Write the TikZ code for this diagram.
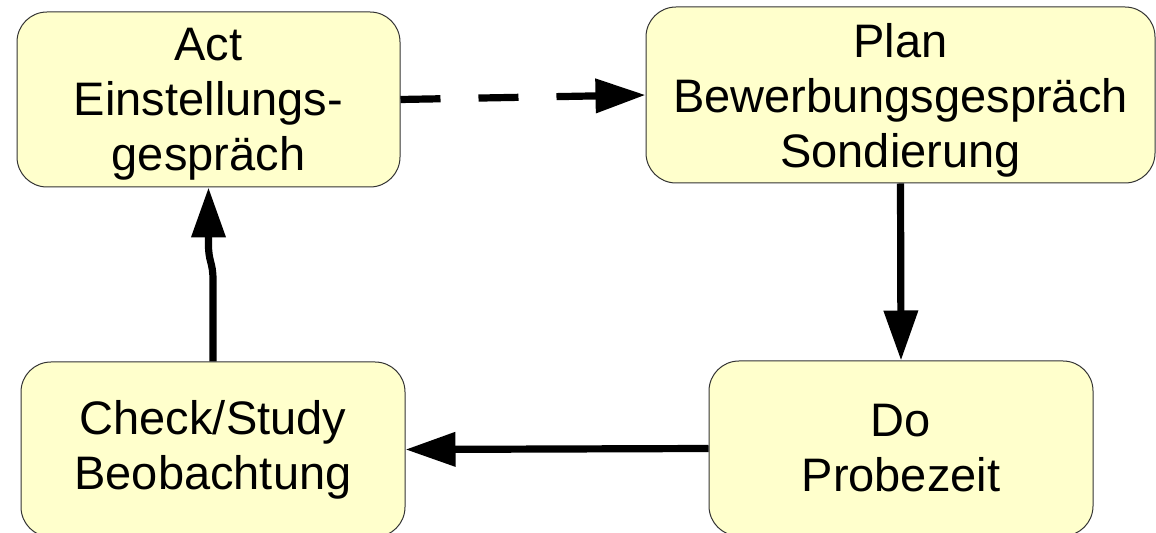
\documentclass[tikz,border=0pt]{standalone}
\usepackage{fontspec}
\setmainfont{Liberation Sans}
\usetikzlibrary{arrows.meta}

\definecolor{boxfill}{HTML}{FFFFCC}
\definecolor{boxline}{HTML}{333333}

\begin{document}
\begin{tikzpicture}[x=0.5pt, y=-0.5pt]
	\tikzset{
		phase/.style={ rectangle
		             , rounded corners=15pt
		             , draw=boxline
		             , line width=0.5pt
		             , fill=boxfill
		             , align=center
		             , inner sep=0
		             , font=\fontsize{23.5}{27.5}\selectfont},
		flow/.style={ line width=3.6pt
		            , -{Triangle[length=25pt, width=16.5pt]}},
	}
	
	\clip (0, 0) rectangle (1156, 533);
	
	% Phases of the cycle
	\node (act) at (208.5, 99.5)
	      [ phase
	      , text depth=0pt
	      , minimum width=191.5pt
	      , minimum height=87.5pt]
	      {Act\\Einstellungs-\\gespräch};
	\node (plan) at (900.5, 95)
	      [ phase
	      , text depth=0pt
	      , minimum width=254.5pt
	      , minimum height=88pt]
	      {Plan\\Bewerbungsgespräch\\Sondierung};
	\node (do) at (901, 448.5)
	      [ phase
	      , minimum width=192pt
	      , minimum height=87.5pt]
	      {Do\\Probezeit};
	\node (check) at (213, 449.5)
	      [ phase
	      , minimum width=192pt
	      , minimum height=87.5pt]
	      {Check/Study\\Beobachtung};
	
	% Links between phases
	\draw [flow, dash pattern=on 20pt off 19pt] (act.east) -- (plan.west);
	\draw [flow] (plan.south) -- (do.north);
	\draw [flow] (do.west) -- (check.east);
	\draw [flow] (check.north)
	      -- (213, 280)
	      .. controls (213, 262) and (208.5, 262) .. (208.5, 245)
	      -- (act.south);
	
\end{tikzpicture}
\end{document}
